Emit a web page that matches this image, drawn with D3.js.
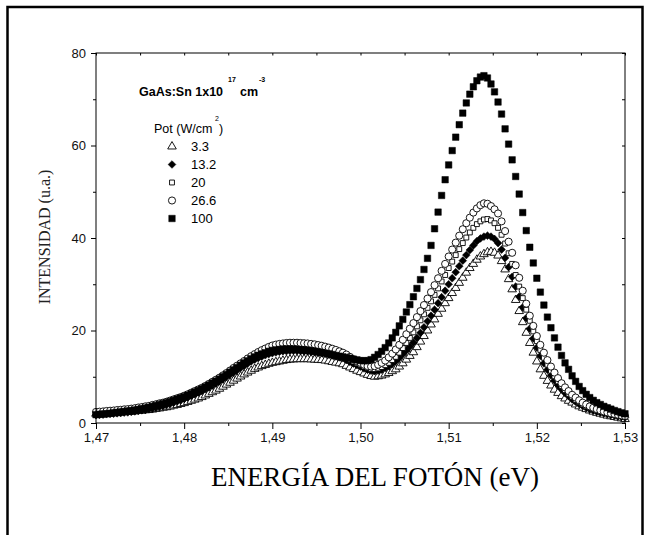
<!DOCTYPE html>
<html>
<head>
<meta charset="utf-8">
<script src="https://cdn.jsdelivr.net/npm/d3@7"></script>
<style>
body { margin: 0; background: #fff; }
svg { display: block; }
</style>
</head>
<body>
<svg id="chart" width="647" height="535"></svg>
<script>
// photon energy grid (eV), same for every spectrum
const energies = [
    1.4700, 1.4704, 1.4708, 1.4712, 1.4716, 1.4720, 1.4724, 1.4728, 1.4732, 1.4736,
    1.4740, 1.4744, 1.4748, 1.4752, 1.4756, 1.4760, 1.4764, 1.4768, 1.4772, 1.4776,
    1.4780, 1.4784, 1.4788, 1.4792, 1.4796, 1.4800, 1.4804, 1.4808, 1.4812, 1.4816,
    1.4820, 1.4824, 1.4828, 1.4832, 1.4836, 1.4840, 1.4844, 1.4848, 1.4852, 1.4856,
    1.4860, 1.4864, 1.4868, 1.4872, 1.4876, 1.4880, 1.4884, 1.4888, 1.4892, 1.4896,
    1.4900, 1.4904, 1.4908, 1.4912, 1.4916, 1.4920, 1.4924, 1.4928, 1.4932, 1.4936,
    1.4940, 1.4944, 1.4948, 1.4952, 1.4956, 1.4960, 1.4964, 1.4968, 1.4972, 1.4976,
    1.4980, 1.4984, 1.4988, 1.4992, 1.4996, 1.5000, 1.5004, 1.5008, 1.5012, 1.5016,
    1.5020, 1.5024, 1.5028, 1.5032, 1.5036, 1.5040, 1.5044, 1.5048, 1.5052, 1.5056,
    1.5060, 1.5064, 1.5068, 1.5072, 1.5076, 1.5080, 1.5084, 1.5088, 1.5092, 1.5096,
    1.5100, 1.5104, 1.5108, 1.5112, 1.5116, 1.5120, 1.5124, 1.5128, 1.5132, 1.5136,
    1.5140, 1.5144, 1.5148, 1.5152, 1.5156, 1.5160, 1.5164, 1.5168, 1.5172, 1.5176,
    1.5180, 1.5184, 1.5188, 1.5192, 1.5196, 1.5200, 1.5204, 1.5208, 1.5212, 1.5216,
    1.5220, 1.5224, 1.5228, 1.5232, 1.5236, 1.5240, 1.5244, 1.5248, 1.5252, 1.5256,
    1.5260, 1.5264, 1.5268, 1.5272, 1.5276, 1.5280, 1.5284, 1.5288, 1.5292, 1.5296,
    1.5300
];

// PL intensity (u.a.) for each excitation power (W/cm2)
const pot3_3 = [
    2.0, 2.05, 2.1, 2.15, 2.15, 2.2, 2.25, 2.3, 2.35, 2.4,
    2.45, 2.5, 2.6, 2.65, 2.75, 2.8, 2.9, 3.05, 3.15, 3.3,
    3.4, 3.55, 3.75, 3.9, 4.1, 4.3, 4.55, 4.8, 5.05, 5.3,
    5.6, 5.95, 6.3, 6.65, 7.0, 7.4, 7.85, 8.3, 8.7, 9.15,
    9.6, 10.05, 10.5, 10.9, 11.3, 11.7, 12.0, 12.3, 12.55, 12.8,
    13.0, 13.15, 13.3, 13.45, 13.6, 13.7, 13.75, 13.8, 13.8, 13.8,
    13.8, 13.75, 13.7, 13.65, 13.6, 13.5, 13.35, 13.2, 13.05, 12.9,
    12.7, 12.35, 12.0, 11.65, 11.3, 11.0, 10.7, 10.4, 10.15, 10.0,
    10.1, 10.25, 10.5, 10.8, 11.2, 11.6, 12.2, 12.9, 13.7, 14.5,
    15.3, 16.4, 17.6, 18.8, 20.0, 21.3, 22.4, 23.6, 24.7, 25.9,
    27.0, 28.1, 29.2, 30.3, 31.4, 32.5, 33.5, 34.4, 35.3, 36.0,
    36.5, 36.9, 37.0, 36.8, 36.2, 35.0, 33.2, 31.1, 28.9, 26.6,
    24.2, 21.8, 19.5, 17.3, 15.2, 13.3, 11.6, 10.2, 9.1, 8.1,
    7.2, 6.5, 5.8, 5.3, 4.8, 4.4, 4.0, 3.6, 3.3, 3.0,
    2.7, 2.45, 2.2, 2.0, 1.8, 1.6, 1.45, 1.3, 1.15, 1.0,
    0.85
];
const pot13_2 = [
    1.7, 1.75, 1.8, 1.9, 1.95, 2.0, 2.1, 2.15, 2.25, 2.3,
    2.4, 2.5, 2.6, 2.75, 2.85, 3.0, 3.15, 3.35, 3.5, 3.7,
    3.9, 4.15, 4.4, 4.65, 4.9, 5.2, 5.5, 5.85, 6.2, 6.55,
    6.9, 7.3, 7.7, 8.1, 8.55, 9.0, 9.5, 9.95, 10.45, 10.9,
    11.4, 11.9, 12.35, 12.85, 13.3, 13.7, 14.05, 14.35, 14.65, 14.9,
    15.1, 15.25, 15.4, 15.5, 15.55, 15.6, 15.6, 15.6, 15.55, 15.5,
    15.5, 15.4, 15.3, 15.2, 15.1, 15.0, 14.8, 14.6, 14.4, 14.2,
    14.0, 13.6, 13.2, 12.85, 12.5, 12.2, 11.8, 11.5, 11.3, 11.2,
    11.3, 11.55, 11.9, 12.3, 12.8, 13.4, 14.1, 14.9, 15.7, 16.5,
    17.4, 18.4, 19.5, 20.7, 22.0, 23.2, 24.5, 25.9, 27.2, 28.6,
    30.0, 31.3, 32.6, 33.9, 35.1, 36.3, 37.4, 38.4, 39.3, 39.9,
    40.3, 40.5, 40.3, 39.8, 38.9, 37.5, 35.7, 33.7, 31.6, 29.5,
    27.3, 25.0, 22.7, 20.4, 18.3, 16.3, 14.5, 12.9, 11.5, 10.3,
    9.2, 8.2, 7.3, 6.5, 5.8, 5.1, 4.6, 4.1, 3.7, 3.3,
    2.95, 2.7, 2.45, 2.25, 2.1, 1.9, 1.75, 1.6, 1.45, 1.35,
    1.2
];
const pot20 = [
    2.1, 2.15, 2.2, 2.3, 2.35, 2.4, 2.5, 2.55, 2.65, 2.7,
    2.8, 2.9, 3.05, 3.15, 3.3, 3.4, 3.55, 3.75, 3.95, 4.1,
    4.3, 4.55, 4.8, 5.1, 5.35, 5.6, 5.9, 6.25, 6.6, 6.95,
    7.3, 7.7, 8.1, 8.5, 8.95, 9.4, 9.9, 10.4, 10.9, 11.4,
    11.9, 12.4, 12.9, 13.35, 13.8, 14.2, 14.55, 14.85, 15.15, 15.4,
    15.6, 15.75, 15.9, 16.0, 16.05, 16.1, 16.1, 16.1, 16.05, 16.0,
    16.0, 15.9, 15.8, 15.7, 15.6, 15.5, 15.3, 15.1, 14.9, 14.7,
    14.5, 14.1, 13.7, 13.3, 12.9, 12.6, 12.2, 11.9, 11.7, 11.65,
    11.8, 12.1, 12.5, 13.0, 13.6, 14.3, 15.2, 16.2, 17.3, 18.4,
    19.6, 20.9, 22.2, 23.5, 24.9, 26.3, 27.7, 29.1, 30.6, 32.0,
    33.5, 34.9, 36.3, 37.6, 38.9, 40.1, 41.2, 42.2, 43.0, 43.6,
    44.0, 44.1, 43.8, 43.2, 42.2, 40.7, 38.8, 36.7, 34.4, 32.0,
    29.5, 27.0, 24.5, 22.1, 19.8, 17.7, 15.8, 14.1, 12.6, 11.3,
    10.1, 9.0, 8.0, 7.1, 6.3, 5.6, 5.0, 4.5, 4.0, 3.6,
    3.3, 3.0, 2.75, 2.5, 2.3, 2.1, 1.9, 1.75, 1.6, 1.45,
    1.3
];
const pot26_6 = [
    2.4, 2.45, 2.5, 2.6, 2.65, 2.7, 2.8, 2.85, 2.95, 3.0,
    3.1, 3.2, 3.35, 3.45, 3.6, 3.7, 3.9, 4.05, 4.25, 4.4,
    4.6, 4.85, 5.1, 5.35, 5.6, 5.9, 6.2, 6.55, 6.9, 7.25,
    7.6, 8.0, 8.45, 8.9, 9.35, 9.8, 10.3, 10.8, 11.35, 11.9,
    12.4, 12.9, 13.4, 13.95, 14.45, 14.9, 15.35, 15.75, 16.1, 16.45,
    16.75, 16.95, 17.1, 17.2, 17.3, 17.35, 17.35, 17.35, 17.3, 17.25,
    17.2, 17.1, 17.0, 16.85, 16.7, 16.5, 16.3, 16.05, 15.8, 15.5,
    15.2, 14.8, 14.3, 13.8, 13.35, 13.0, 12.6, 12.3, 12.2, 12.3,
    12.6, 13.0, 13.5, 14.2, 15.0, 15.9, 16.9, 18.0, 19.2, 20.4,
    21.6, 22.9, 24.2, 25.5, 26.9, 28.3, 29.8, 31.3, 32.9, 34.4,
    36.0, 37.5, 39.0, 40.5, 41.9, 43.2, 44.4, 45.5, 46.4, 47.1,
    47.5, 47.4, 46.9, 46.2, 45.3, 43.6, 41.5, 39.2, 36.8, 34.1,
    31.4, 28.6, 25.8, 23.2, 21.0, 18.8, 16.9, 15.2, 13.6, 12.2,
    10.9, 9.7, 8.6, 7.7, 6.9, 6.1, 5.5, 4.9, 4.4, 4.0,
    3.6, 3.3, 3.0, 2.75, 2.5, 2.3, 2.1, 1.95, 1.8, 1.65,
    1.5
];
const pot100 = [
    1.8, 1.9, 1.95, 2.0, 2.1, 2.2, 2.3, 2.4, 2.5, 2.6,
    2.7, 2.8, 2.95, 3.1, 3.25, 3.4, 3.6, 3.8, 4.0, 4.2,
    4.4, 4.65, 4.9, 5.2, 5.45, 5.7, 6.0, 6.35, 6.7, 7.05,
    7.4, 7.8, 8.2, 8.65, 9.05, 9.5, 10.0, 10.5, 11.0, 11.5,
    12.0, 12.5, 13.0, 13.45, 13.9, 14.3, 14.65, 14.95, 15.2, 15.5,
    15.7, 15.8, 15.9, 16.0, 16.0, 16.0, 16.0, 15.95, 15.85, 15.8,
    15.7, 15.6, 15.5, 15.35, 15.25, 15.1, 14.95, 14.8, 14.6, 14.45,
    14.3, 14.15, 14.0, 13.8, 13.65, 13.5, 13.45, 13.5, 13.7, 14.2,
    14.8, 15.5, 16.3, 17.3, 18.4, 19.6, 21.0, 22.4, 24.0, 25.6,
    27.3, 29.1, 31.0, 33.2, 35.6, 38.4, 42.0, 45.6, 49.2, 52.6,
    55.8, 58.9, 61.8, 64.5, 67.0, 69.2, 71.1, 72.7, 74.0, 74.8,
    75.1, 74.6, 73.3, 71.6, 69.4, 66.8, 63.6, 60.3, 56.9, 53.3,
    49.5, 45.5, 41.6, 38.0, 34.6, 31.3, 28.3, 25.5, 22.9, 20.6,
    18.4, 16.4, 14.6, 13.0, 11.6, 10.2, 9.0, 7.9, 7.0, 6.2,
    5.5, 4.9, 4.4, 4.0, 3.6, 3.3, 3.0, 2.7, 2.45, 2.2,
    2.0
];

const powerLabels = ["3.3", "13.2", "20", "26.6", "100"];
const xTicks = [1.47, 1.48, 1.49, 1.50, 1.51, 1.52, 1.53];
const xTickLabels = ["1,47", "1,48", "1,49", "1,50", "1,51", "1,52", "1,53"];
const xMinorTicks = [1.475, 1.485, 1.495, 1.505, 1.515, 1.525];
const yTicks = [0, 20, 40, 60, 80];
const yMinorTicks = [10, 30, 50, 70];

const svg = d3.select("#chart");
const sans = "'Liberation Sans', Arial, sans-serif";
const serif = "'Liberation Serif', 'Times New Roman', serif";

const x = d3.scaleLinear().domain([1.47, 1.53]).range([96, 625]);
const y = d3.scaleLinear().domain([0, 80]).range([423, 53]);

// outer page frame
svg.append("rect")
    .attr("x", 7.5).attr("y", 7)
    .attr("width", 635).attr("height", 600)
    .attr("fill", "none")
    .attr("stroke", "#000")
    .attr("stroke-width", 2.5);

// marker look per series (same order as powerLabels)
const seriesList = [
    { values: pot3_3, shape: d3.symbolTriangle, size: 32, filled: false, rot: 0 },
    { values: pot13_2, shape: d3.symbolSquare, size: 30, filled: true, rot: 45 },
    { values: pot20, shape: d3.symbolSquare, size: 24, filled: false, rot: 0 },
    { values: pot26_6, shape: d3.symbolCircle, size: 40, filled: false, rot: 0 },
    { values: pot100, shape: d3.symbolSquare, size: 42, filled: true, rot: 0 }
];

function styleMarker(sel, s) {
    sel.attr("d", d3.symbol().type(s.shape).size(s.size)())
        .attr("fill", s.filled ? "#000" : "#fff")
        .attr("stroke", "#000")
        .attr("stroke-width", s.filled ? 0.5 : 0.9);
}

// data points
const plot = svg.append("g").attr("id", "points");
seriesList.forEach(function (s) {
    let g = plot.append("g");
    g.selectAll("path")
        .data(s.values)
        .join("path")
        .attr("transform", (d, i) => "translate(" + x(energies[i]) + "," + y(d) + ") rotate(" + s.rot + ")")
        .call(styleMarker, s);
});

// axes
function cleanAxis(g) {
    g.select(".domain").remove();
    g.selectAll(".tick line").attr("stroke", "#000");
    g.selectAll("text").style("font-family", sans).style("font-size", "13px").attr("fill", "#111");
}

svg.append("g")
    .attr("transform", "translate(0,423)")
    .call(d3.axisBottom(x).tickValues(xTicks).tickFormat((d, i) => xTickLabels[i]).tickSize(6).tickPadding(4))
    .call(cleanAxis);
svg.append("g")
    .attr("transform", "translate(0,423)")
    .call(d3.axisBottom(x).tickValues(xMinorTicks).tickFormat("").tickSize(3))
    .call(cleanAxis);
svg.append("g")
    .attr("transform", "translate(0,53)")
    .call(d3.axisBottom(x).tickValues(xTicks.concat(xMinorTicks)).tickFormat("").tickSize(2.5))
    .call(cleanAxis);

svg.append("g")
    .attr("transform", "translate(96,0)")
    .call(d3.axisLeft(y).tickValues(yTicks).tickSize(5).tickPadding(5))
    .call(cleanAxis);
svg.append("g")
    .attr("transform", "translate(96,0)")
    .call(d3.axisLeft(y).tickValues(yMinorTicks).tickFormat("").tickSize(3))
    .call(cleanAxis);
svg.append("g")
    .attr("transform", "translate(625,0)")
    .call(d3.axisLeft(y).tickValues(yTicks.concat(yMinorTicks)).tickFormat("").tickSize(3))
    .call(cleanAxis);

// plot frame
svg.append("rect")
    .attr("x", x(1.47)).attr("y", y(80))
    .attr("width", x(1.53) - x(1.47)).attr("height", y(0) - y(80))
    .attr("fill", "none")
    .attr("stroke", "#000")
    .attr("stroke-width", 1);

// axis titles
svg.append("text")
    .attr("x", 375).attr("y", 486)
    .attr("text-anchor", "middle")
    .style("font-family", serif)
    .style("font-size", "27px")
    .text("ENERGÍA DEL FOTÓN (eV)");

svg.append("text")
    .attr("transform", "translate(50,237) rotate(-90)")
    .attr("text-anchor", "middle")
    .style("font-family", serif)
    .style("font-size", "16px")
    .attr("fill", "#222")
    .text("INTENSIDAD (u.a.)");

// sample label
const sample = svg.append("g").style("font-family", sans).style("font-weight", "bold");
sample.append("text").attr("x", 139).attr("y", 96).style("font-size", "12.5px").text("GaAs:Sn 1x10");
sample.append("text").attr("x", 228).attr("y", 82).style("font-size", "7px").text("17");
sample.append("text").attr("x", 240).attr("y", 96).style("font-size", "12.5px").text("cm");
sample.append("text").attr("x", 259).attr("y", 82).style("font-size", "7px").text("-3");

// legend
const legend = svg.append("g").style("font-family", sans);
legend.append("text").attr("x", 154).attr("y", 133).style("font-size", "12.5px").text("Pot (W/cm");
legend.append("text").attr("x", 215).attr("y", 121).style("font-size", "7px").text("2");
legend.append("text").attr("x", 219).attr("y", 133).style("font-size", "12.5px").text(")");

seriesList.forEach(function (s, i) {
    let rowY = 151 + i * 18;
    legend.append("path")
        .attr("transform", "translate(172," + (rowY - 4.5) + ") rotate(" + s.rot + ")")
        .call(styleMarker, s);
    legend.append("text")
        .attr("x", 191).attr("y", rowY)
        .style("font-size", "13px")
        .text(powerLabels[i]);
});
</script>
</body>
</html>
